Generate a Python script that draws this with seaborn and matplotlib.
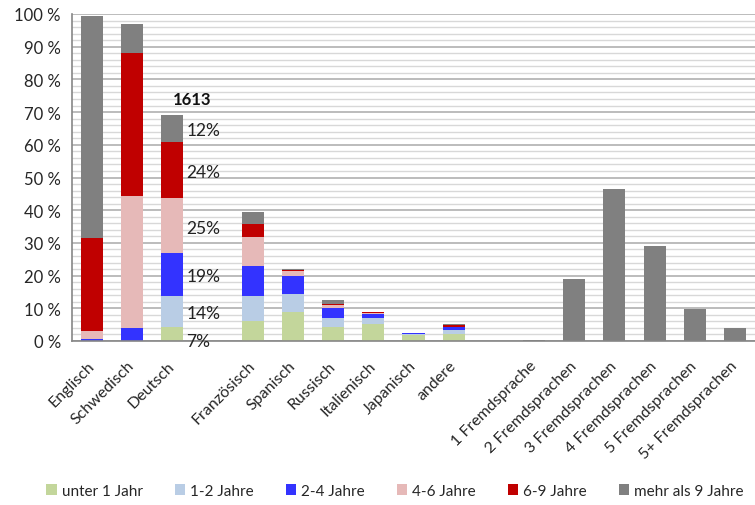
import numpy as np
import pandas as pd
import seaborn as sns
import matplotlib.pyplot as plt
from matplotlib.patches import Patch
from matplotlib.ticker import MultipleLocator, FuncFormatter

sns.set_style("white")
plt.rcParams['font.family'] = ['Lato', 'DejaVu Sans']

categories = ["Englisch", "Schwedisch", "Deutsch", "gap1",
              "Französisch", "Spanisch", "Russisch", "Italienisch", "Japanisch", "andere", "gap2",
              "1 Fremdsprache", "2 Fremdsprachen", "3 Fremdsprachen",
              "4 Fremdsprachen", "5 Fremdsprachen", "5+ Fremdsprachen"]

series_names = ["unter 1 Jahr", "1-2 Jahre", "2-4 Jahre", "4-6 Jahre", "6-9 Jahre", "mehr als 9 Jahre"]
colors = ["#C3D69B", "#B9CDE5", "#3333FF", "#E6B9B8", "#C00000", "#808080"]

# share in percent per duration class
unter1 = [0.0, 0.0, 4.4, 0, 6.1, 8.9, 4.4, 5.3, 1.8, 2.0, 0, 0, 0, 0, 0, 0, 0]
j1_2 = [0.1, 0.0, 9.5, 0, 7.7, 5.6, 2.6, 1.8, 0.2, 1.4, 0, 0, 0, 0, 0, 0, 0]
j2_4 = [0.5, 3.9, 12.9, 0, 9.1, 5.5, 3.0, 1.2, 0.4, 0.8, 0, 0, 0, 0, 0, 0, 0]
j4_6 = [2.5, 40.5, 17.0, 0, 9.0, 1.3, 0.9, 0.3, 0.0, 0.2, 0, 0, 0, 0, 0, 0, 0]
j6_9 = [28.4, 43.7, 17.1, 0, 4.0, 0.3, 0.4, 0.2, 0.0, 0.5, 0, 0, 0, 0, 0, 0, 0]
mehr9 = [67.9, 8.8, 8.3, 0, 3.5, 0.4, 1.2, 0.1, 0.0, 0.2, 0,
         0.3, 18.9, 46.5, 29.1, 9.9, 4.1]

deutsch_labels = ["7%", "14%", "19%", "25%", "24%", "12%"]
deutsch_n = "1613"

df = pd.DataFrame({"cat": categories, "unter1": unter1, "j1_2": j1_2, "j2_4": j2_4,
                   "j4_6": j4_6, "j6_9": j6_9, "mehr9": mehr9})
cols = ["unter1", "j1_2", "j2_4", "j4_6", "j6_9", "mehr9"]
cum = df[cols].cumsum(axis=1)
cum["cat"] = df["cat"]

fig = plt.figure(figsize=(7.55, 5.06), dpi=100)
ax = fig.add_axes([72 / 755, 164 / 506, 683 / 755, 327 / 506])

# draw the cumulative totals from the top down so each layer overlays the next
for col, color in zip(cols[::-1], colors[::-1]):
    sns.barplot(data=cum, x="cat", y=col, order=categories, color=color,
                width=0.55, linewidth=0, saturation=1, ax=ax)

ax.set_xlim(-0.5, len(categories) - 0.5)
ax.set_ylim(0, 100)
ax.set_xlabel("")
ax.set_ylabel("")

# grid: minor every 2 %, major every 10 %
ax.yaxis.set_major_locator(MultipleLocator(10))
ax.yaxis.set_minor_locator(MultipleLocator(2))
ax.grid(which="minor", axis="y", color="#d8d8d8", linewidth=1.0)
ax.grid(which="major", axis="y", color="#b0b0b0", linewidth=1.2)
ax.set_axisbelow(True)
ax.yaxis.set_major_formatter(FuncFormatter(lambda v, p: f"{int(v)} %"))
ax.tick_params(axis="y", which="major", length=5, color="#868686", labelsize=12, pad=3)
ax.tick_params(axis="y", which="minor", length=0)

labels = ["" if c.startswith("gap") else c for c in categories]
ax.set_xticks(np.arange(len(categories)))
ax.set_xticklabels(labels, rotation=45, ha="right", rotation_mode="anchor", va="center")
ax.set_xticks(np.arange(len(categories) + 1) - 0.5, minor=True)
ax.tick_params(axis="x", which="major", length=0, labelsize=11.5, pad=16)
ax.tick_params(axis="x", which="minor", length=5, color="#868686")

for s in ["top", "right"]:
    ax.spines[s].set_visible(False)
for s in ["left", "bottom"]:
    ax.spines[s].set_color("#868686")
    ax.spines[s].set_linewidth(1.2)

# labels next to the Deutsch bar
di = categories.index("Deutsch")
dvals = [df.loc[di, c] for c in cols]
bottoms = np.cumsum([0] + dvals[:-1])
for k, (lab, b, v) in enumerate(zip(deutsch_labels, bottoms, dvals)):
    ypos = 0 if k == 0 else b + v / 2 - 0.6
    ax.text(di + 0.35, ypos, lab, fontsize=12.5, va="center", ha="left", color="#222222",
            clip_on=False)
ax.text(di + 0.5, sum(dvals) + 2.5, deutsch_n, fontsize=12, fontweight="bold",
        ha="center", va="bottom", color="#111111")

handles = [Patch(facecolor=c, edgecolor="none") for c in colors]
fig.legend(handles, series_names, loc="center", bbox_to_anchor=(0.523, 1 - 492 / 506),
           ncol=6, frameon=False, fontsize=11, handlelength=0.7, handleheight=0.7,
           handletextpad=0.3, columnspacing=2.1)

fig.savefig("out.png", dpi=100)
